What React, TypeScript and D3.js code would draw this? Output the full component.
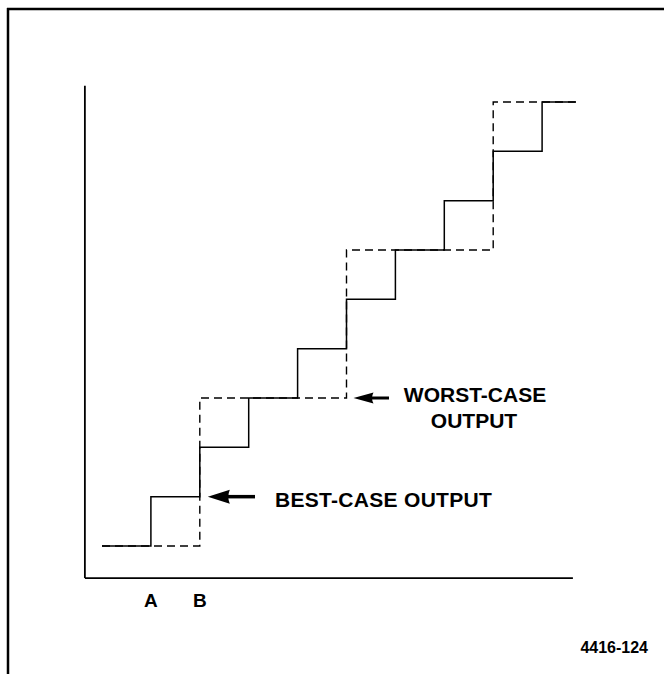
import React from "react";
import * as d3 from "d3";

// Input codes (x) and the converter output level (y) for each code
const codes = [0, 1, 2, 3, 4, 5, 6, 7, 8, 9];
const bestOutput = [0, 1, 2, 3, 4, 5, 6, 7, 8, 9];
const worstOutput = [0, 0, 3, 3, 3, 6, 6, 6, 9, 9];
const lastCodeEnd = 9.69;
const codeLabels = [
  { code: 1, text: "A" },
  { code: 2, text: "B" },
];
const bestLabel = "BEST-CASE OUTPUT";
const worstLabel = ["WORST-CASE", "OUTPUT"];
const figureId = "4416-124";

const W = 664;
const H = 674;

export default function App() {
  const x = d3.scaleLinear().domain([0, 10]).range([102, 591]);
  const y = d3.scaleLinear().domain([0, 9]).range([546, 102]);

  const line = d3
    .line<[number, number]>()
    .x((d) => x(d[0]))
    .y((d) => y(d[1]))
    .curve(d3.curveStepAfter);

  const bestPts: [number, number][] = codes.map((c, i) => [c, bestOutput[i]]);
  bestPts.push([lastCodeEnd, bestOutput[bestOutput.length - 1]]);
  const worstPts: [number, number][] = codes.map((c, i) => [c, worstOutput[i]]);
  worstPts.push([lastCodeEnd, worstOutput[worstOutput.length - 1]]);

  const axX0 = x(-0.35);
  const axY0 = y(-0.65);
  const axXEnd = x(9.63);
  const axYTop = y(9.33);

  const font = "'Liberation Sans', Arial, Helvetica, sans-serif";

  const arrow = (tipX: number, cy: number, headLen: number, headH: number, tailEnd: number, tailW: number, key: string) => {
    const hh = headH / 2;
    const head = `M${tipX},${cy} L${tipX + headLen},${cy - hh} Q${tipX + headLen - 3},${cy} ${tipX + headLen},${cy + hh} Z`;
    return (
      <g key={key}>
        <path d={head} fill="#000" />
        <rect x={tipX + headLen - 5} y={cy - tailW / 2} width={tailEnd - (tipX + headLen - 5)} height={tailW} fill="#000" />
      </g>
    );
  };

  return (
    <svg
      width={W}
      height={H}
      style={{ position: "absolute", left: 0, top: 0, background: "#fff" }}
    >
      <rect x={0} y={0} width={W} height={H} fill="#fff" />
      {/* frame */}
      <line x1={7} y1={9} x2={W} y2={9} stroke="#000" strokeWidth={2.5} />
      <line x1={8} y1={8} x2={8} y2={H} stroke="#000" strokeWidth={2.5} />

      {/* axes */}
      <line x1={axX0} y1={axYTop} x2={axX0} y2={axY0} stroke="#000" strokeWidth={1.8} />
      <line x1={axX0} y1={axY0} x2={axXEnd} y2={axY0} stroke="#000" strokeWidth={1.8} />

      {/* worst-case (dashed) */}
      <path d={line(worstPts) || ""} fill="none" stroke="#000" strokeWidth={1.4} strokeDasharray="8,5" />
      {/* best-case (solid) */}
      <path d={line(bestPts) || ""} fill="none" stroke="#000" strokeWidth={1.5} />

      {/* arrows */}
      {arrow(x(2) + 8, y(1), 22, 14, 255, 3.5, "best")}
      {arrow(x(5) + 7, y(3), 20, 11, 389, 3, "worst")}

      {/* labels */}
      <text x={275} y={507} fontFamily={font} fontWeight="bold" fontSize={21} fill="#000" letterSpacing={0.3}>
        {bestLabel}
      </text>
      <text x={475} y={402} fontFamily={font} fontWeight="bold" fontSize={21} fill="#000" textAnchor="middle">
        {worstLabel[0]}
      </text>
      <text x={474} y={428} fontFamily={font} fontWeight="bold" fontSize={21} fill="#000" textAnchor="middle">
        {worstLabel[1]}
      </text>

      {codeLabels.map((l) => (
        <text
          key={l.text}
          x={x(l.code)}
          y={607}
          fontFamily={font}
          fontWeight="bold"
          fontSize={19}
          textAnchor="middle"
          fill="#000"
        >
          {l.text}
        </text>
      ))}

      <text x={648} y={653} fontFamily={font} fontWeight="bold" fontSize={16} textAnchor="end" fill="#000">
        {figureId}
      </text>
    </svg>
  );
}
